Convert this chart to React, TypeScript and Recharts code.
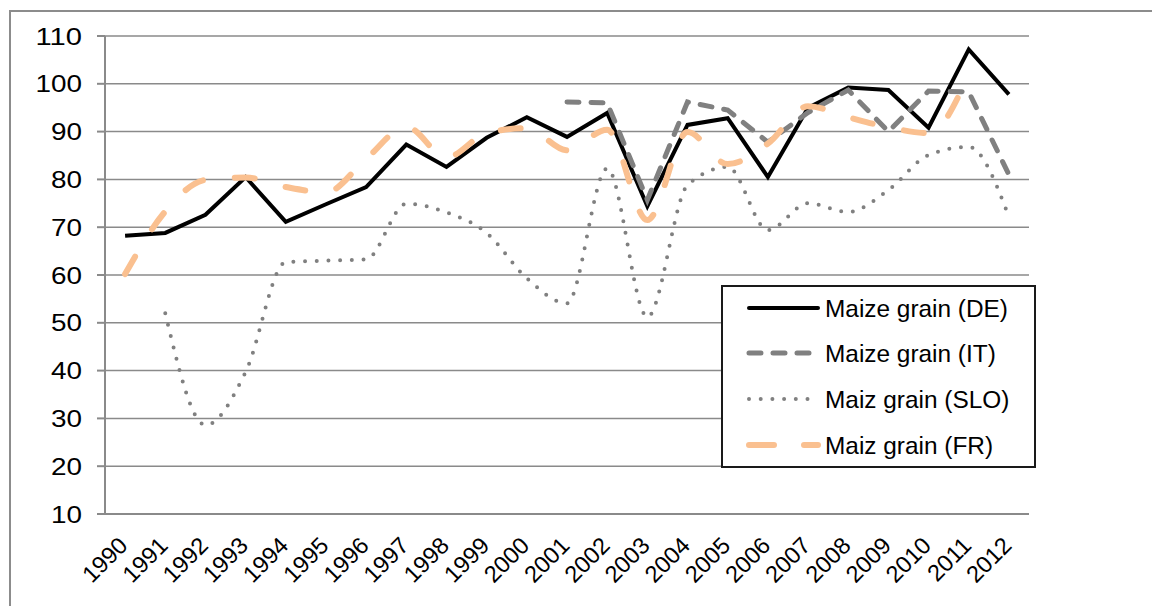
import React from 'react';
import { LineChart, Line, XAxis, YAxis, CartesianGrid, Legend } from 'recharts';

const years = ['1990','1991','1992','1993','1994','1995','1996','1997','1998','1999','2000','2001','2002','2003','2004','2005','2006','2007','2008','2009','2010','2011','2012'];
const maizeDE = [68.2, 68.8, 72.6, 80.5, 71.1, 74.8, 78.4, 87.3, 82.6, 88.7, 93.0, 88.9, 93.9, 74.4, 91.4, 92.8, 80.5, 95.0, 99.2, 98.7, 90.8, 107.2, 97.8];
const maizeIT = [null, null, null, null, null, null, null, null, null, null, null, 96.2, 96.0, 75.7, 96.2, 94.5, 87.8, 94.0, 98.7, 90.0, 98.5, 98.3, 81.0];
const maizSLO = [null, 52.0, 28.6, 39.7, 62.7, 63.0, 63.3, 74.9, 73.1, 68.8, 59.3, 54.1, 82.3, 51.2, 78.8, 82.6, 69.4, 75.0, 73.2, 77.8, 85.1, 86.8, 72.2];
const maizFR = [60.2, 73.3, 79.9, 80.4, 78.4, 77.3, 84.3, 91.0, 84.6, 89.7, 90.7, 86.1, 90.4, 71.5, 89.9, 83.2, 87.5, 95.3, 93.0, 90.9, 89.7, 102.0, null];
const yTicks = [10, 20, 30, 40, 50, 60, 70, 80, 90, 100, 110];

const seriesNames = ['Maize grain (DE)', 'Maize grain (IT)', 'Maiz grain (SLO)', 'Maiz grain (FR)'];

const data = years.map((y, i) => ({
  idx: i,
  year: y,
  de: maizeDE[i],
  it: maizeIT[i],
  slo: maizSLO[i],
  fr: maizFR[i],
}));

const boundaryTicks = years.map((_, i) => i - 0.5).concat([years.length - 0.5]);
const centerTicks = years.map((_, i) => i);

const FONT = '"Liberation Sans", Arial, sans-serif';
const GRID = '#8a8a8a';

const YearTick = (props: any) => {
  const { x, y, payload } = props;
  const label = years[payload.value];
  if (label === undefined) return null;
  const px = x + 4;
  const py = y + 25;
  return (
    <text
      x={px}
      y={py}
      transform={`rotate(-45, ${px}, ${py})`}
      textAnchor="end"
      fontFamily={FONT}
      fontSize={23.5}
      fill="#000"
    >
      {label}
    </text>
  );
};

const ValueTick = (props: any) => {
  const { x, y, payload } = props;
  const label = String(payload.value);
  return (
    <text
      x={x}
      y={y}
      dy="0.355em"
      textAnchor="end"
      fontFamily={FONT}
      fontSize={24}
      fill="#000"
      textLength={label.length * 15.5}
      lengthAdjust="spacingAndGlyphs"
    >
      {label}
    </text>
  );
};

const legendStyles = [
  { stroke: '#000', strokeWidth: 4, dash: undefined as string | undefined },
  { stroke: '#808080', strokeWidth: 5, dash: '12 12' },
  { stroke: '#808080', strokeWidth: 4, dash: '0 11.7' },
  { stroke: '#FAC090', strokeWidth: 6, dash: '25 30' },
];

const LegendBox = () => {
  const rowY = [23, 68, 114, 160];
  return (
    <svg width={315} height={183} style={{ display: 'block' }}>
      <rect x={1} y={1} width={313} height={181} fill="#fff" stroke="#1a1a1a" strokeWidth={2} />
      {seriesNames.map((name, i) => (
        <g key={name}>
          <line
            x1={28}
            x2={97}
            y1={rowY[i]}
            y2={rowY[i]}
            stroke={legendStyles[i].stroke}
            strokeWidth={legendStyles[i].strokeWidth}
            strokeDasharray={legendStyles[i].dash}
            strokeLinecap="round"
          />
          <text x={104} y={rowY[i] + 8.7} fontFamily={FONT} fontSize={24.4} fill="#000">
            {name}
          </text>
        </g>
      ))}
    </svg>
  );
};

export default function App() {
  return (
    <div style={{ position: 'absolute', left: 0, top: 0, width: 1152, height: 606, background: '#fff', overflow: 'hidden' }}>
      <div
        style={{
          position: 'absolute',
          left: 9,
          top: 10,
          width: 1200,
          height: 700,
          borderLeft: '2px solid #8c8c8c',
          borderTop: '2px solid #8c8c8c',
        }}
      />
      <div style={{ position: 'absolute', left: 0, top: 0 }}>
        <LineChart
          width={1152}
          height={606}
          data={data}
          margin={{ top: 36, right: 123, left: 0, bottom: 0 }}
        >
          <CartesianGrid xAxisId="grid" yAxisId="v" vertical={false} stroke={GRID} strokeWidth={1.5} />
          <XAxis
            xAxisId="grid"
            dataKey="idx"
            type="number"
            domain={[-0.5, years.length - 0.5]}
            ticks={boundaryTicks}
            interval={0}
            tick={false}
            tickSize={7}
            height={8}
            axisLine={{ stroke: GRID, strokeWidth: 2 }}
            tickLine={{ stroke: GRID, strokeWidth: 2 }}
          />
          <XAxis
            xAxisId="year"
            dataKey="idx"
            type="number"
            domain={[-0.5, years.length - 0.5]}
            ticks={centerTicks}
            interval={0}
            tick={<YearTick />}
            tickSize={0}
            tickMargin={0}
            height={84}
            axisLine={false}
            tickLine={false}
          />
          <YAxis
            yAxisId="v"
            type="number"
            domain={[10, 110]}
            ticks={yTicks}
            interval={0}
            width={105}
            tickSize={8}
            tickMargin={15}
            axisLine={{ stroke: GRID, strokeWidth: 2 }}
            tickLine={{ stroke: GRID, strokeWidth: 2 }}
            tick={<ValueTick />}
          />
          <Line
            xAxisId="year"
            yAxisId="v"
            dataKey="de"
            name={seriesNames[0]}
            stroke="#000"
            strokeWidth={4}
            dot={false}
            activeDot={false}
            type="linear"
            isAnimationActive={false}
          />
          <Line
            xAxisId="year"
            yAxisId="v"
            dataKey="it"
            name={seriesNames[1]}
            stroke="#808080"
            strokeWidth={5}
            strokeDasharray="12 12"
            strokeLinecap="round"
            dot={false}
            activeDot={false}
            type="linear"
            isAnimationActive={false}
          />
          <Line
            xAxisId="year"
            yAxisId="v"
            dataKey="slo"
            name={seriesNames[2]}
            stroke="#808080"
            strokeWidth={4}
            strokeDasharray="0 11.7"
            strokeLinecap="round"
            dot={false}
            activeDot={false}
            type="monotone"
            isAnimationActive={false}
          />
          <Line
            xAxisId="year"
            yAxisId="v"
            dataKey="fr"
            name={seriesNames[3]}
            stroke="#FAC090"
            strokeWidth={6}
            strokeDasharray="20 32"
            strokeLinecap="round"
            dot={false}
            activeDot={false}
            type="monotone"
            isAnimationActive={false}
          />
          <Legend
            layout="horizontal"
            verticalAlign="middle"
            align="center"
            wrapperStyle={{ left: 721, top: 285, width: 315, height: 183 }}
            content={() => <LegendBox />}
          />
        </LineChart>
      </div>
    </div>
  );
}
